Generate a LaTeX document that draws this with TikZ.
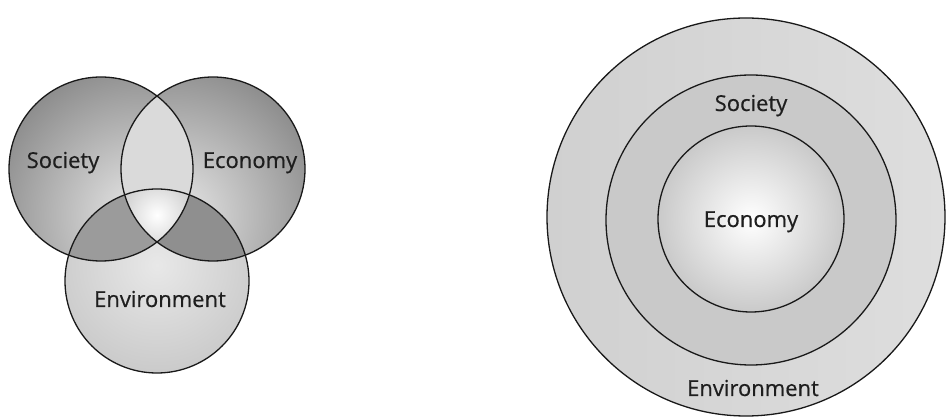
\documentclass[tikz,border=0pt]{standalone}
\usepackage{fontspec}
\setmainfont{Open Sans}
\usepackage{xcolor}
\usepackage{tikz}
\definecolor{ringline}{RGB}{25,25,25}
\definecolor{labelgrey}{RGB}{30,30,30}
\definecolor{paleshade}{RGB}{232,232,232}
\definecolor{darkshade}{RGB}{128,128,128}
\definecolor{lensgrey}{RGB}{218,218,218}
\definecolor{lowlensgrey}{RGB}{155,155,155}
\definecolor{midring}{RGB}{201,201,201}
\definecolor{outerleft}{RGB}{208,208,208}
\definecolor{outerright}{RGB}{222,222,222}
\tikzset{
  ring/.style={draw=ringline,line width=1.3pt},
  lbl/.style={font=\fontsize{22}{26}\selectfont\addfontfeature{FakeBold=0.5},
    text=labelgrey,inner sep=0pt,anchor=base}
}

\begin{document}
\begin{tikzpicture}[x=1pt,y=-1pt]
  \useasboundingbox[fill=white] (0,0) rectangle (946,419);
  % left: three overlapping circles
  \coordinate (soc) at (101,169);
  \coordinate (eco) at (213,169);
  \coordinate (env) at (157,281);
  \begin{scope}
    \clip (soc) circle (92pt);
    \shade[inner color=paleshade,outer color=darkshade] (140,215) circle (175pt);
  \end{scope}
  \begin{scope}
    \clip (eco) circle (92pt);
    \shade[inner color=paleshade,outer color=darkshade] (174,215) circle (175pt);
  \end{scope}
  \begin{scope}
    \clip (env) circle (92pt);
    \shade[inner color=paleshade,outer color=gray!45] (157,265) circle (125pt);
  \end{scope}
  % overlaps
  \begin{scope}
    \clip (soc) circle (92pt);
    \fill[lensgrey] (eco) circle (92pt);
    \fill[lowlensgrey] (env) circle (92pt);
  \end{scope}
  \begin{scope}
    \clip (eco) circle (92pt);
    \fill[lowlensgrey!92!black] (env) circle (92pt);
  \end{scope}
  \begin{scope}
    \clip (soc) circle (92pt);
    \clip (eco) circle (92pt);
    \clip (env) circle (92pt);
    \shade[inner color=white,outer color=gray!40] (157,215) circle (40pt);
  \end{scope}
  \draw[ring] (soc) circle (92pt);
  \draw[ring] (eco) circle (92pt);
  \draw[ring] (env) circle (92pt);
  \node[lbl] (soclbl) at (63,168) {Society};
  \node[lbl] (ecolbl) at (250,168) {Economy};
  \node[lbl] (envlbl) at (160,307) {Environment};

  % right: nested circles
  \coordinate (outer) at (746,217);
  \coordinate (middle) at (751,220);
  \coordinate (inner) at (751,219);
  \shade[ring,left color=outerleft,right color=outerright] (outer) circle (199pt);
  \fill[ring,fill=midring] (middle) circle (145pt);
  \shade[ring,inner color=white,outer color=gray!42] (inner) circle (93pt);
  \node[lbl] (societyring) at (751,111) {Society};
  \node[lbl] (economycore) at (751,227) {Economy};
  \node[lbl] (environmentring) at (753,396) {Environment};
\end{tikzpicture}
\end{document}
